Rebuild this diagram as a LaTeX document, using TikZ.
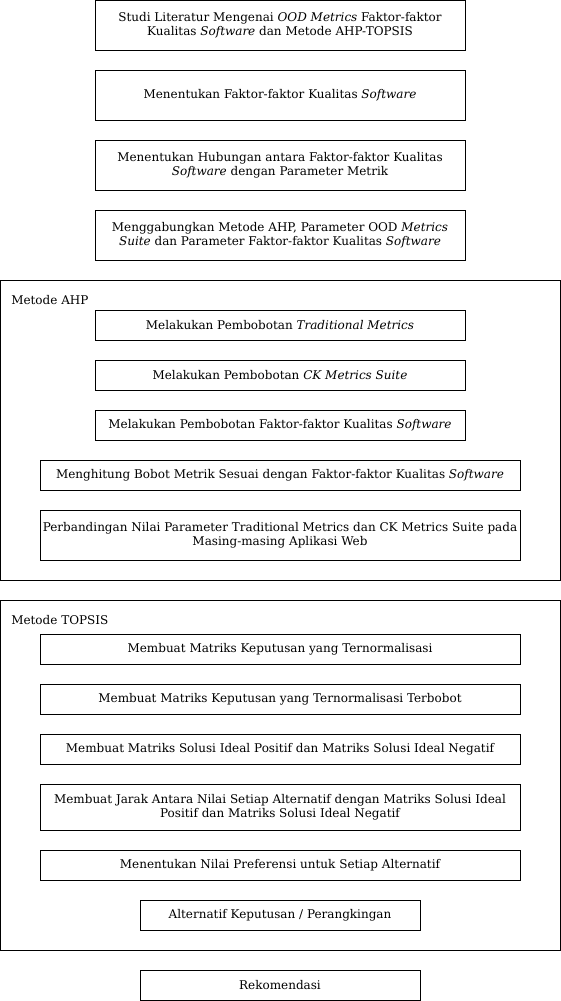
\documentclass[tikz,border=0pt]{standalone}
\usepackage{fontspec}
\setmainfont{DejaVu Serif}

\tikzset{
  stepbox/.style={draw,line width=0.75pt,align=center,inner sep=2pt,
    font=\fontsize{9}{10.5}\selectfont,minimum height=22.5pt},
  wide/.style={stepbox,minimum width=277.5pt},
  wider/.style={stepbox,minimum width=360pt},
  narrow/.style={stepbox,minimum width=210pt},
  groupbox/.style={draw,line width=0.75pt},
  grouplabel/.style={anchor=west,inner sep=0pt,font=\fontsize{9}{10.5}\selectfont}
}

\begin{document}
\begin{tikzpicture}[x=0.75pt,y=-0.75pt]
        \useasboundingbox (0,0) rectangle (561,1001);

        % tahap awal
        \node[wide,minimum height=37.5pt] (studi) at (280,25) {Studi Literatur Mengenai \textit{OOD Metrics} Faktor-faktor\\Kualitas \textit{Software} dan Metode AHP-TOPSIS};
        \node[wide,minimum height=37.5pt] (faktor) at (280,95) {Menentukan Faktor-faktor Kualitas \textit{Software}};
        \node[wide,minimum height=37.5pt] (hubungan) at (280,165) {Menentukan Hubungan antara Faktor-faktor Kualitas\\\textit{Software} dengan Parameter Metrik};
        \node[wide,minimum height=37.5pt] (gabung) at (280,235) {Menggabungkan Metode AHP, Parameter OOD \textit{Metrics}\\\textit{Suite} dan Parameter Faktor-faktor Kualitas \textit{Software}};

        % metode AHP
        \draw[groupbox] (0,280) rectangle (560,580);
        \node[grouplabel] (ahp) at (11,300) {Metode AHP};
        \node[wide] (tradisional) at (280,325) {Melakukan Pembobotan \textit{Traditional Metrics}};
        \node[wide] (ck) at (280,375) {Melakukan Pembobotan \textit{CK Metrics Suite}};
        \node[wide] (kualitas) at (280,425) {Melakukan Pembobotan Faktor-faktor Kualitas \textit{Software}};
        \node[wider] (bobot) at (280,475) {Menghitung Bobot Metrik Sesuai dengan Faktor-faktor Kualitas \textit{Software}};
        \node[wider,minimum height=37.5pt] (banding) at (280,535) {Perbandingan Nilai Parameter Traditional Metrics dan CK Metrics Suite pada\\Masing-masing Aplikasi Web};

        % metode TOPSIS
        \draw[groupbox] (0,600) rectangle (560,950);
        \node[grouplabel] (topsis) at (11,620) {Metode TOPSIS};
        \node[wider] (normal) at (280,649) {Membuat Matriks Keputusan yang Ternormalisasi};
        \node[wider] (terbobot) at (280,699) {Membuat Matriks Keputusan yang Ternormalisasi Terbobot};
        \node[wider] (ideal) at (280,749) {Membuat Matriks Solusi Ideal Positif dan Matriks Solusi Ideal Negatif};
        \node[wider,minimum height=34.5pt] (jarak) at (280,807) {Membuat Jarak Antara Nilai Setiap Alternatif dengan Matriks Solusi Ideal\\Positif dan Matriks Solusi Ideal Negatif};
        \node[wider] (preferensi) at (280,865) {Menentukan Nilai Preferensi untuk Setiap Alternatif};
        \node[narrow] (rangking) at (280,915) {Alternatif Keputusan / Perangkingan};

        % hasil akhir
        \node[narrow] (rekomendasi) at (280,985) {Rekomendasi};
      \end{tikzpicture}
\end{document}
